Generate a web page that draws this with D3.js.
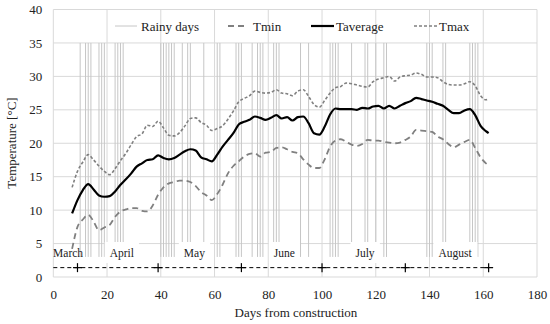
<!DOCTYPE html>
<html><head><meta charset="utf-8">
<script src="https://cdn.jsdelivr.net/npm/d3@7"></script>
<style>body{margin:0;background:#fff}svg{display:block}text{font-family:"Liberation Serif","Times New Roman",serif}</style>
</head><body><svg id="c" width="550" height="324"></svg>
<script>
const days = [7,9,11,13,15,17,19,21,23,25,27,29,31,33,35,37,39,41,43,45,47,49,51,53,55,57,59,61,63,65,67,69,71,73,75,77,79,81,83,85,87,89,91,93,95,97,99,101,103,105,107,109,111,113,115,117,119,121,123,125,127,129,131,133,135,137,139,141,143,145,147,149,151,153,155,157,159,161,162];
const tavg = [9.5,11.5,13.0,13.9,13.1,12.2,12.0,12.1,12.8,13.8,14.6,15.5,16.5,17.0,17.5,17.6,18.2,17.8,17.6,17.8,18.3,18.8,19.1,18.9,17.9,17.6,17.3,18.3,19.5,20.5,21.5,22.8,23.2,23.5,24.0,23.8,23.5,23.8,24.2,23.7,23.9,23.4,23.9,24.0,23.0,21.5,21.3,22.5,24.3,25.2,25.1,25.1,25.1,25.0,25.3,25.2,25.5,25.6,25.2,25.6,25.2,25.6,26.0,26.3,26.8,26.6,26.4,26.2,25.9,25.6,25.0,24.5,24.5,24.9,25.1,24.2,22.6,21.8,21.5];
const tmax = [13.4,15.8,17.2,18.3,17.5,16.6,15.8,15.3,16.2,17.4,18.5,19.8,21.0,21.4,22.7,22.5,23.3,22.3,21.2,21.1,21.6,22.6,23.7,23.8,23.1,22.7,21.9,22.2,22.6,23.6,24.8,26.2,26.7,27.1,27.8,27.6,27.5,27.6,28.0,27.5,27.4,27.1,27.8,28.0,27.0,25.8,25.4,26.4,27.5,28.3,28.5,29.0,28.9,28.7,28.5,28.4,29.2,29.6,29.8,30.0,29.3,29.9,30.1,30.2,30.5,30.3,29.9,29.9,29.8,29.2,28.8,28.7,28.7,28.9,29.2,28.6,27.1,26.5,26.6];
const tmin = [4.2,7.5,8.6,9.3,8.3,7.0,7.4,7.8,9.0,9.8,10.1,10.3,10.3,9.9,9.8,10.7,12.3,13.4,14.0,14.2,14.4,14.4,14.2,13.6,12.7,12.2,11.5,12.4,13.8,15.5,16.6,17.3,18.0,18.4,18.5,18.0,18.6,18.7,19.3,19.4,19.1,18.7,18.5,17.6,16.8,16.3,16.3,17.6,19.5,20.4,20.6,20.2,19.8,19.6,19.9,20.5,20.4,20.4,20.2,20.1,20.0,20.1,20.5,21.0,22.0,21.9,21.8,21.7,21.0,20.6,19.9,19.4,19.8,20.2,20.5,19.3,17.9,17.0,16.7];
const rainyDays = [10,12,13,14,17,18,19,23,24,25,26,40,41,42,43,44,45,48,50,51,56,61,62,68,69,70,74,76,77,78,82,83,84,92,95,103,104,105,106,111,116,117,120,123,124,139,140,141,145,146,155,156,157,158];
const rainRange = [3,35];
const monthNames = ["March","April","May","June","July","August"];
const monthLabelDays = [5.5,25.5,52.5,86,116,149.5];
const monthBounds = [9,39,70,100,131,162];
const monthLineLevel = 1.4;
const xTicks = [0,20,40,60,80,100,120,140,160,180];
const yTicks = [0,5,10,15,20,25,30,35,40];

const svg = d3.select("#c");
const x = d3.scaleLinear().domain([0,180]).range([53.3,537]);
const y = d3.scaleLinear().domain([0,40]).range([277,9.5]);
const grid = "#d9d9d9";

// gridlines
svg.append("g").selectAll("line").data(yTicks).join("line")
  .attr("x1",x(0)).attr("x2",x(180)).attr("y1",d=>y(d)).attr("y2",d=>y(d))
  .attr("stroke",grid).attr("stroke-width",1);
svg.append("g").selectAll("line").data(xTicks).join("line")
  .attr("y1",y(0)).attr("y2",y(40)).attr("x1",d=>x(d)).attr("x2",d=>x(d))
  .attr("stroke",grid).attr("stroke-width",1);

// axes labels
const xa = svg.append("g").attr("transform",`translate(0,${y(0)})`)
  .call(d3.axisBottom(x).tickValues(xTicks).tickSize(0).tickPadding(13));
xa.select(".domain").remove();
xa.selectAll("text").attr("font-size",13).attr("fill","#222").style("font-family","Liberation Serif");
const ya = svg.append("g").attr("transform",`translate(${x(0)},0)`)
  .call(d3.axisLeft(y).tickValues(yTicks).tickSize(0).tickPadding(11));
ya.select(".domain").remove();
ya.selectAll("text").attr("font-size",13).attr("fill","#222").style("font-family","Liberation Serif");

// rainy days
svg.append("g").selectAll("line").data(rainyDays).join("line")
  .attr("x1",d=>x(d)).attr("x2",d=>x(d)).attr("y1",y(rainRange[0])).attr("y2",y(rainRange[1]))
  .attr("stroke","#c6c6c6").attr("stroke-width",1);

// month labels with white boxes
const mg = svg.append("g");
monthNames.forEach((m,i)=>{
  const t = mg.append("text").attr("x",x(monthLabelDays[i])).attr("y",257)
    .attr("text-anchor","middle").attr("font-size",11.5).attr("fill","#222").text(m);
  if(i>0){
    const b = t.node().getBBox();
    mg.insert("rect","text").attr("x",b.x-5).attr("width",b.width+10)
      .attr("y",242).attr("height",21).attr("fill","#fff");
  }
});

// month boundary line
svg.append("line").attr("x1",x(0)).attr("x2",x(monthBounds[monthBounds.length-1]))
  .attr("y1",y(monthLineLevel)).attr("y2",y(monthLineLevel))
  .attr("stroke","#000").attr("stroke-width",1).attr("stroke-dasharray","4,3");
const pg = svg.append("g");
monthBounds.forEach(d=>{
  pg.append("line").attr("x1",x(d)-4.5).attr("x2",x(d)+4.5).attr("y1",y(monthLineLevel)).attr("y2",y(monthLineLevel)).attr("stroke","#000").attr("stroke-width",1.2);
  pg.append("line").attr("x1",x(d)).attr("x2",x(d)).attr("y1",y(monthLineLevel)-4.5).attr("y2",y(monthLineLevel)+4.5).attr("stroke","#000").attr("stroke-width",1.2);
});

// series
const line = vals => d3.line().x((d,i)=>x(days[i])).y(d=>y(d)).curve(d3.curveMonotoneX)(vals);
svg.append("path").attr("d",line(tmin)).attr("fill","none").attr("stroke","#808080").attr("stroke-width",1.8).attr("stroke-dasharray","6,4");
svg.append("path").attr("d",line(tmax)).attr("fill","none").attr("stroke","#808080").attr("stroke-width",1.6).attr("stroke-dasharray","3,2");
svg.append("path").attr("d",line(tavg)).attr("fill","none").attr("stroke","#000").attr("stroke-width",2.2);

// legend
const leg = [
  {name:"Rainy days", x1:115, x2:137, stroke:"#c6c6c6", w:1, dash:null, tx:141},
  {name:"Tmin", x1:228, x2:248, stroke:"#808080", w:1.8, dash:"6,4", tx:253},
  {name:"Taverage", x1:311, x2:334, stroke:"#000", w:2.2, dash:null, tx:336},
  {name:"Tmax", x1:414, x2:438, stroke:"#808080", w:1.6, dash:"3,2", tx:439}
];
const lg = svg.append("g");
leg.forEach(l=>{
  lg.append("line").attr("x1",l.x1).attr("x2",l.x2).attr("y1",26).attr("y2",26)
    .attr("stroke",l.stroke).attr("stroke-width",l.w).attr("stroke-dasharray",l.dash);
  lg.append("text").attr("x",l.tx).attr("y",30.5).attr("font-size",13).attr("fill","#222").text(l.name);
});

// axis titles
svg.append("text").attr("x",296).attr("y",317).attr("text-anchor","middle").attr("font-size",13).attr("fill","#222").text("Days from construction");
svg.append("text").attr("transform","translate(16,143) rotate(-90)").attr("text-anchor","middle").attr("font-size",13).attr("fill","#222").text("Temperature [°C]");
</script></body></html>
